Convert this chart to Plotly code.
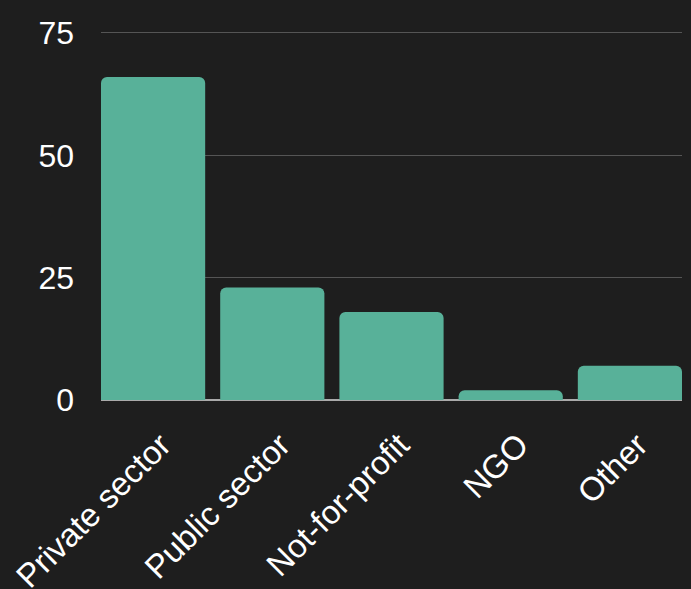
import plotly.graph_objects as go

categories = ["Private sector", "Public sector", "Not-for-profit", "NGO", "Other"]
values = [66, 23, 18, 2, 7]
y_ticks = [0, 25, 50, 75]

fig = go.Figure(go.Bar(x=categories, y=values, marker_color="#58b199", marker_line_width=0))
fig.update_layout(
    width=691, height=589,
    paper_bgcolor="#1e1e1e", plot_bgcolor="#1e1e1e",
    margin=dict(l=101, r=9, t=31, b=189),
    bargap=0.126, barcornerradius=6,
    font=dict(family="Liberation Sans, Arial, sans-serif", color="#ffffff", size=32),
    showlegend=False,
)
fig.update_yaxes(range=[0, 75.4], tickvals=y_ticks, gridcolor="#555555", gridwidth=1,
                 zeroline=True, zerolinecolor="#aaaaaa", zerolinewidth=1.5,
                 ticks="", ticklabelstandoff=26, tickfont=dict(size=32), automargin=False)
fig.update_xaxes(range=[-0.437, 4.437], tickangle=-45, ticks="", tickfont=dict(size=33),
                 showgrid=False, ticklabelstandoff=18, ticklabelshift=8, automargin=False)
fig.write_html("out.html", config={"displayModeBar": False},
               post_script="document.body.style.margin='0';document.body.style.background='#1e1e1e';")
